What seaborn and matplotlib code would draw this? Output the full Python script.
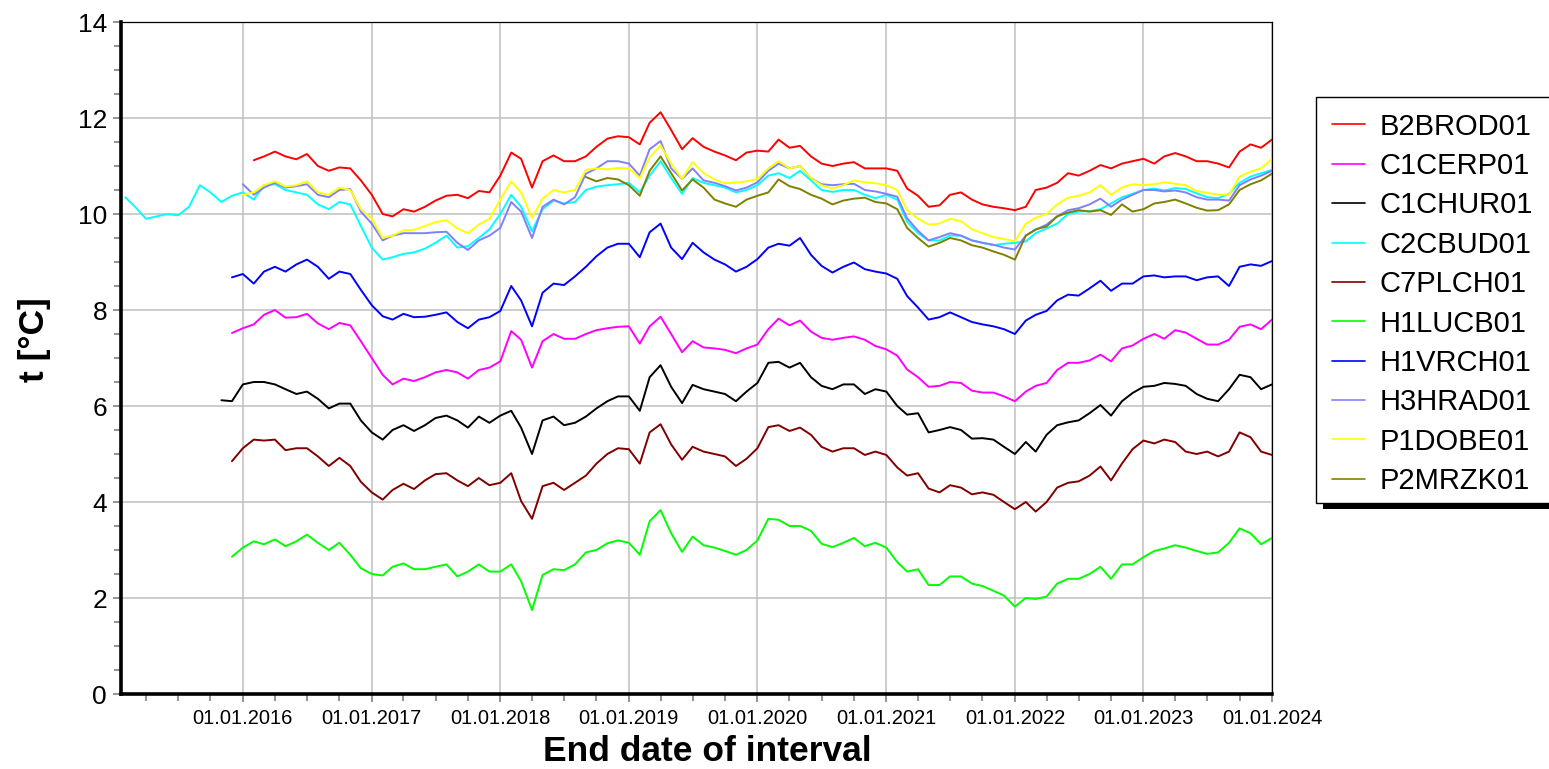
import matplotlib
matplotlib.use("Agg")
import matplotlib.pyplot as plt
import matplotlib.dates as mdates
from matplotlib.patches import Rectangle
from matplotlib.ticker import MultipleLocator
import seaborn as sns
import pandas as pd

# monthly values (°C), each series with its own start month
stations = ["B2BROD01", "C1CERP01", "C1CHUR01", "C2CBUD01", "C7PLCH01",
            "H1LUCB01", "H1VRCH01", "H3HRAD01", "P1DOBE01", "P2MRZK01"]
colors = ["#ff0000", "#ff00ff", "#000000", "#00ffff", "#800000",
          "#00ff00", "#0000ff", "#8080ff", "#ffff00", "#808000"]
starts = ["2016-02-01", "2015-12-01", "2015-11-01", "2015-02-01", "2015-12-01",
          "2015-12-01", "2015-12-01", "2016-01-01", "2016-01-01", "2018-09-01"]

b2brod01 = [11.12, 11.2, 11.3, 11.2, 11.14, 11.25, 11.0, 10.9, 10.97, 10.95, 10.7,
            10.4, 10.0, 9.95, 10.1, 10.05, 10.15, 10.28, 10.38, 10.4, 10.33, 10.48, 10.45,
            10.8, 11.28, 11.15, 10.55, 11.1, 11.22, 11.1, 11.1, 11.2, 11.4, 11.57, 11.62,
            11.6, 11.45, 11.9, 12.12, 11.75, 11.35, 11.58, 11.4, 11.3, 11.22, 11.12, 11.28,
            11.32, 11.3, 11.55, 11.38, 11.42, 11.2, 11.05, 11.0, 11.05, 11.08, 10.95, 10.95,
            10.95, 10.9, 10.53, 10.38, 10.15, 10.18, 10.4, 10.45, 10.3, 10.2, 10.15, 10.12,
            10.08, 10.15, 10.5, 10.55, 10.65, 10.85, 10.8, 10.9, 11.02, 10.95, 11.05, 11.1,
            11.15, 11.05, 11.2, 11.27, 11.2, 11.1, 11.1, 11.05, 10.97, 11.3, 11.45, 11.38,
            11.55]
c1cerp01 = [7.52,
            7.62, 7.7, 7.9, 8.0, 7.84, 7.85, 7.92, 7.72, 7.6, 7.73, 7.68, 7.35,
            7.0, 6.65, 6.45, 6.57, 6.52, 6.6, 6.7, 6.75, 6.7, 6.57, 6.75, 6.8,
            6.93, 7.56, 7.38, 6.8, 7.35, 7.5, 7.4, 7.4, 7.5, 7.58, 7.62, 7.65,
            7.66, 7.3, 7.66, 7.86, 7.5, 7.12, 7.35, 7.22, 7.2, 7.17, 7.1, 7.2,
            7.28, 7.6, 7.82, 7.68, 7.78, 7.55, 7.42, 7.38, 7.42, 7.45, 7.38, 7.25,
            7.18, 7.05, 6.76, 6.6, 6.4, 6.42, 6.5, 6.48, 6.32, 6.28, 6.28, 6.2,
            6.1, 6.3, 6.42, 6.48, 6.75, 6.9, 6.9, 6.95, 7.07, 6.93, 7.2, 7.26,
            7.4, 7.5, 7.4, 7.58, 7.53, 7.4, 7.28, 7.28, 7.38, 7.65, 7.7, 7.6,
            7.8]
c1chur01 = [6.12, 6.1,
            6.45, 6.5, 6.5, 6.45, 6.35, 6.25, 6.3, 6.15, 5.95, 6.05, 6.05, 5.7,
            5.45, 5.3, 5.5, 5.6, 5.48, 5.6, 5.75, 5.8, 5.7, 5.55, 5.78, 5.65,
            5.8, 5.9, 5.55, 5.0, 5.7, 5.78, 5.6, 5.65, 5.78, 5.95, 6.1, 6.2,
            6.2, 5.9, 6.6, 6.85, 6.4, 6.06, 6.44, 6.35, 6.3, 6.25, 6.1, 6.3,
            6.48, 6.9, 6.92, 6.8, 6.9, 6.6, 6.42, 6.35, 6.45, 6.45, 6.25, 6.35,
            6.3, 6.0, 5.82, 5.85, 5.45, 5.5, 5.56, 5.5, 5.32, 5.33, 5.3, 5.15,
            5.0, 5.25, 5.05, 5.4, 5.6, 5.66, 5.7, 5.85, 6.02, 5.8, 6.1, 6.27,
            6.4, 6.42, 6.48, 6.46, 6.42, 6.25, 6.15, 6.1, 6.35, 6.65, 6.6, 6.35,
            6.45]
c2cbud01 = [10.35, 10.15, 9.9, 9.95, 10.0, 9.97, 10.15, 10.6, 10.45, 10.25, 10.38,
            10.45, 10.3, 10.6, 10.62, 10.5, 10.45, 10.4, 10.2, 10.1, 10.25, 10.2, 9.75,
            9.3, 9.05, 9.1, 9.17, 9.2, 9.28, 9.4, 9.55, 9.3, 9.33, 9.5, 9.68,
            10.0, 10.4, 10.15, 9.64, 10.1, 10.28, 10.22, 10.25, 10.5, 10.57, 10.6, 10.62,
            10.65, 10.45, 10.8, 11.1, 10.75, 10.42, 10.75, 10.65, 10.6, 10.55, 10.45, 10.5,
            10.6, 10.8, 10.85, 10.75, 10.9, 10.7, 10.5, 10.46, 10.5, 10.5, 10.4, 10.33,
            10.4, 10.3, 9.84, 9.6, 9.45, 9.45, 9.55, 9.55, 9.45, 9.4, 9.35, 9.38,
            9.4, 9.43, 9.6, 9.7, 9.8, 10.0, 10.05, 10.06, 10.1, 10.22, 10.35, 10.42,
            10.5, 10.53, 10.49, 10.54, 10.52, 10.43, 10.35, 10.33, 10.42, 10.65, 10.78, 10.85,
            10.92]
c7plch01 = [4.85,
            5.12, 5.3, 5.28, 5.3, 5.08, 5.12, 5.12, 4.95, 4.75, 4.92, 4.75, 4.42,
            4.2, 4.05, 4.25, 4.38, 4.27, 4.45, 4.58, 4.6, 4.45, 4.33, 4.5, 4.35,
            4.4, 4.6, 4.02, 3.65, 4.33, 4.4, 4.25, 4.4, 4.55, 4.8, 5.0, 5.12,
            5.1, 4.8, 5.45, 5.62, 5.2, 4.88, 5.15, 5.05, 5.0, 4.95, 4.75, 4.9,
            5.12, 5.56, 5.6, 5.48, 5.55, 5.4, 5.15, 5.05, 5.12, 5.12, 4.98, 5.05,
            4.98, 4.72, 4.55, 4.6, 4.28, 4.2, 4.35, 4.3, 4.16, 4.2, 4.15, 4.0,
            3.85, 4.0, 3.8, 4.0, 4.3, 4.4, 4.43, 4.55, 4.74, 4.45, 4.8, 5.1,
            5.28, 5.22, 5.3, 5.25, 5.05, 5.0, 5.05, 4.95, 5.05, 5.45, 5.35, 5.05,
            4.98]
h1lucb01 = [2.86,
            3.05, 3.18, 3.12, 3.22, 3.08, 3.18, 3.32, 3.15, 3.0, 3.15, 2.9, 2.62,
            2.5, 2.47, 2.65, 2.72, 2.6, 2.6, 2.65, 2.7, 2.45, 2.55, 2.7, 2.55,
            2.55, 2.7, 2.35, 1.75, 2.48, 2.6, 2.58, 2.7, 2.95, 3.0, 3.14, 3.2,
            3.15, 2.9, 3.6, 3.83, 3.35, 2.96, 3.28, 3.1, 3.05, 2.98, 2.9, 3.0,
            3.2, 3.65, 3.63, 3.5, 3.5, 3.4, 3.13, 3.06, 3.15, 3.25, 3.08, 3.15,
            3.05, 2.75, 2.55, 2.6, 2.27, 2.27, 2.45, 2.45, 2.3, 2.25, 2.15, 2.05,
            1.82, 2.0, 1.98, 2.03, 2.3, 2.4, 2.4, 2.5, 2.65, 2.4, 2.7, 2.7,
            2.85, 2.98, 3.03, 3.1, 3.05, 2.98, 2.92, 2.95, 3.15, 3.45, 3.35, 3.12,
            3.25]
h1vrch01 = [8.68,
            8.75, 8.55, 8.8, 8.9, 8.8, 8.95, 9.05, 8.9, 8.65, 8.8, 8.75, 8.42,
            8.1, 7.87, 7.8, 7.92, 7.85, 7.86, 7.9, 7.95, 7.75, 7.62, 7.8, 7.85,
            7.98, 8.5, 8.2, 7.66, 8.36, 8.55, 8.52, 8.7, 8.9, 9.12, 9.3, 9.38,
            9.38, 9.1, 9.62, 9.8, 9.3, 9.06, 9.4, 9.2, 9.05, 8.95, 8.8, 8.9,
            9.06, 9.3, 9.38, 9.34, 9.5, 9.15, 8.92, 8.78, 8.9, 8.99, 8.85, 8.8,
            8.76, 8.65, 8.29, 8.05, 7.8, 7.85, 7.95, 7.85, 7.75, 7.7, 7.66, 7.6,
            7.5, 7.78, 7.9, 7.98, 8.2, 8.32, 8.3, 8.45, 8.61, 8.4, 8.55, 8.55,
            8.7, 8.72, 8.68, 8.7, 8.7, 8.62, 8.68, 8.7, 8.5, 8.9, 8.95, 8.92,
            9.02]
h3hrad01 = [10.62, 10.4, 10.55, 10.65, 10.55, 10.58, 10.62, 10.4, 10.35, 10.5, 10.52, 10.05,
            9.8, 9.45, 9.55, 9.6, 9.6, 9.6, 9.62, 9.63, 9.4, 9.25, 9.45, 9.55,
            9.71, 10.25, 10.05, 9.5, 10.15, 10.3, 10.2, 10.35, 10.84, 10.95, 11.1, 11.1,
            11.05, 10.8, 11.35, 11.52, 10.95, 10.73, 10.95, 10.7, 10.65, 10.58, 10.49, 10.55,
            10.66, 10.9, 11.05, 10.95, 11.0, 10.75, 10.62, 10.6, 10.62, 10.63, 10.5, 10.47,
            10.42, 10.36, 9.91, 9.65, 9.45, 9.52, 9.6, 9.55, 9.45, 9.4, 9.36, 9.3,
            9.26, 9.55, 9.67, 9.78, 9.95, 10.08, 10.12, 10.2, 10.32, 10.15, 10.3, 10.4,
            10.5, 10.5, 10.47, 10.49, 10.45, 10.35, 10.3, 10.3, 10.28, 10.6, 10.72, 10.8,
            10.9]
p1dobe01 = [10.4, 10.45, 10.6, 10.68, 10.57, 10.6, 10.68, 10.45, 10.4, 10.55, 10.5, 10.1,
            9.9, 9.5, 9.55, 9.66, 9.67, 9.75, 9.83, 9.87, 9.7, 9.6, 9.78, 9.9,
            10.3, 10.68, 10.45, 9.92, 10.32, 10.5, 10.45, 10.5, 10.92, 10.95, 10.93, 10.96,
            10.95, 10.75, 11.18, 11.43, 11.05, 10.73, 11.08, 10.85, 10.72, 10.64, 10.65, 10.68,
            10.73, 10.95, 11.1, 10.95, 11.0, 10.75, 10.6, 10.53, 10.6, 10.7, 10.66, 10.64,
            10.6, 10.5, 10.08, 9.9, 9.78, 9.8, 9.9, 9.85, 9.68, 9.6, 9.52, 9.48,
            9.43, 9.8, 9.92, 10.0, 10.2, 10.34, 10.38, 10.45, 10.6, 10.4, 10.55, 10.62,
            10.6, 10.62, 10.66, 10.63, 10.6, 10.48, 10.44, 10.4, 10.4, 10.78, 10.88, 10.95,
            11.15]
p2mrzk01 = [10.77, 10.68, 10.75, 10.72,
            10.6, 10.38, 10.9, 11.2, 10.85, 10.49, 10.72, 10.55, 10.3, 10.22, 10.15, 10.3,
            10.38, 10.45, 10.72, 10.58, 10.52, 10.4, 10.32, 10.2, 10.28, 10.32, 10.34, 10.25,
            10.22, 10.1, 9.71, 9.5, 9.32, 9.4, 9.5, 9.45, 9.35, 9.3, 9.22, 9.15,
            9.05, 9.55, 9.68, 9.74, 9.95, 10.03, 10.08, 10.05, 10.08, 9.98, 10.2, 10.05,
            10.1, 10.22, 10.25, 10.3, 10.22, 10.13, 10.07, 10.08, 10.2, 10.5, 10.62, 10.7,
            10.84]

series = [b2brod01, c1cerp01, c1chur01, c2cbud01, c7plch01,
          h1lucb01, h1vrch01, h3hrad01, p1dobe01, p2mrzk01]

frames = []
for name, start, vals in zip(stations, starts, series):
    frames.append(pd.DataFrame({
        "date": pd.date_range(start, periods=len(vals), freq="MS"),
        "t": vals,
        "station": name,
    }))
df = pd.concat(frames, ignore_index=True)

sns.set_style("white")
plt.rcParams["font.family"] = ["Liberation Sans", "DejaVu Sans"]
plt.rcParams["text.color"] = "black"
plt.rcParams["axes.labelcolor"] = "black"

W, H = 1549, 769
fig = plt.figure(figsize=(W / 100, H / 100), dpi=100)
ax = fig.add_axes([121 / W, 75 / H, 1151 / W, 672 / H])

sns.lineplot(data=df, x="date", y="t", hue="station", hue_order=stations,
             palette=dict(zip(stations, colors)), linewidth=1.4, ax=ax,
             legend=True)

ax.set_xlim(pd.Timestamp("2015-01-20"), pd.Timestamp("2024-01-01"))
ax.set_ylim(0, 14)

ax.yaxis.set_major_locator(MultipleLocator(2))
ax.yaxis.set_minor_locator(MultipleLocator(0.5))
ax.xaxis.set_major_locator(mdates.YearLocator())
ax.xaxis.set_minor_locator(mdates.MonthLocator(bymonth=[1, 4, 7, 10]))
ax.xaxis.set_major_formatter(mdates.DateFormatter("%d.%m.%Y"))

ax.grid(True, which="major", color="#c0c0c0", linewidth=1.1)
ax.set_axisbelow(True)
ax.tick_params(axis="both", which="both", direction="out", color="#808080",
               labelcolor="black", width=1.2, bottom=True, left=True)
ax.tick_params(axis="both", which="major", length=6)
ax.tick_params(axis="both", which="minor", length=5)
ax.tick_params(axis="y", labelsize=19, pad=4)
ax.tick_params(axis="x", labelsize=14.5, pad=5)

for side in ["left", "bottom"]:
    ax.spines[side].set_linewidth(2.6)
    ax.spines[side].set_color("black")
for side in ["top", "right"]:
    ax.spines[side].set_linewidth(0.9)
    ax.spines[side].set_color("black")

ax.set_xlabel("End date of interval", fontsize=25.5, fontweight="bold")
ax.set_ylabel("t [°C]", fontsize=25.5, fontweight="bold")
ax.xaxis.set_label_coords(0.509, -0.0863)
ax.xaxis.label.set_va("center")
ax.yaxis.set_label_coords(-0.075, 0.527)
ax.yaxis.label.set_va("center")

handles, labels = ax.get_legend_handles_labels()
ax.get_legend().remove()

# legend box with a drop shadow, running off the right edge
fig.patches.append(Rectangle((1323 / W, (H - 509) / H), 240 / W, 406 / H,
                             transform=fig.transFigure, facecolor="black",
                             edgecolor="none", zorder=1))
fig.patches.append(Rectangle((1316 / W, (H - 503) / H), 250 / W, 406 / H,
                             transform=fig.transFigure, facecolor="white",
                             edgecolor="black", linewidth=1.0, zorder=2))
leg = fig.legend(handles, labels, loc="upper left",
                 bbox_to_anchor=(1320 / W, (H - 101) / H),
                 frameon=False, fontsize=21, handlelength=1.15,
                 handletextpad=0.5, labelspacing=0.39, borderaxespad=0)
for text in leg.get_texts():
    text.set_color("black")
for line in leg.get_lines():
    line.set_linewidth(1.2)

fig.savefig("out.png", dpi=100)
